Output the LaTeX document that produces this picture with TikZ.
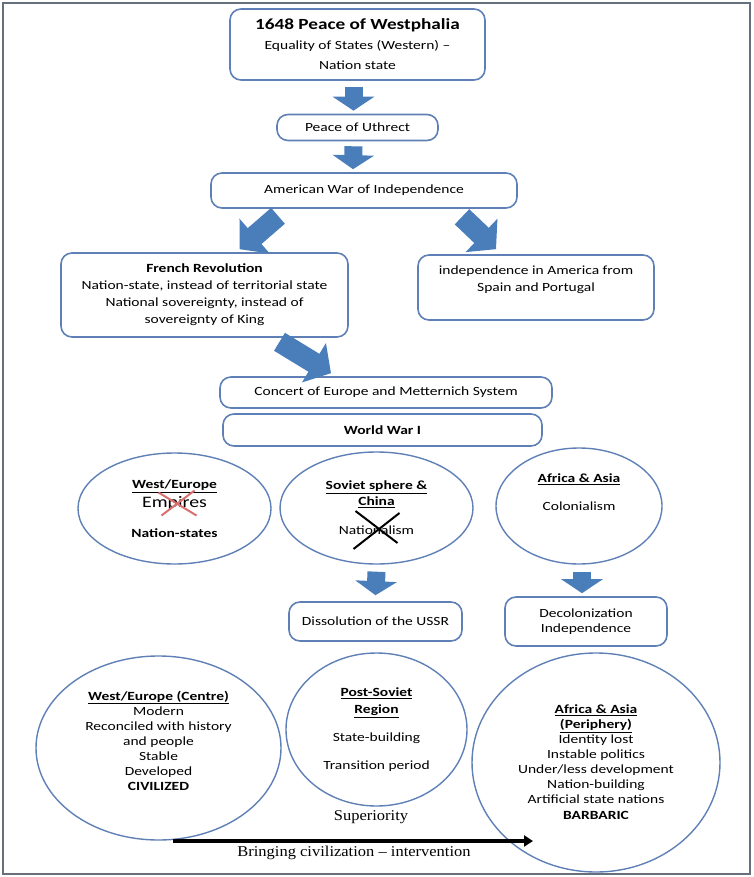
\documentclass[tikz,border=0pt]{standalone}
\usepackage{fontspec}
\setmainfont{Carlito}[FakeStretch=1.24]
\newfontfamily\serifpart{Liberation Serif}[FakeStretch=1.1,Ligatures=TeX]
\usetikzlibrary{arrows.meta,calc,shapes.geometric}
\definecolor{lineblue}{HTML}{5F80B6}
\definecolor{arrowblue}{HTML}{4A7EBB}
\definecolor{framegray}{HTML}{66707C}
\definecolor{crossred}{HTML}{D97070}

\begin{document}
\begin{tikzpicture}[x=1pt, y=-1pt,
        box/.style={draw=lineblue, line width=1.6pt, rounded corners=11pt, align=center, inner sep=0pt, font=\fontsize{12.5}{17}\selectfont},
        region/.style={ellipse, draw=lineblue, line width=1.4pt, align=center, inner sep=0pt, font=\fontsize{12.5}{15}\selectfont},
        blockarrow/.style={draw=arrowblue, line width=18pt, -{Triangle[length=14pt,width=41pt]}},
        slantarrow/.style={draw=arrowblue, line width=21pt, -{Triangle[length=20pt,width=45pt]}},
        serif/.style={font=\serifpart\fontsize{15}{16}\selectfont}
    ]
    \useasboundingbox (0,0) rectangle (753,877);
    \draw[framegray, line width=2.5pt] (3,3) rectangle (750,874);

    % boxes along the time line
    \node[box, minimum width=255pt, minimum height=71pt, font=\fontsize{12.5}{20}\selectfont] (westph) at (357.5,44.5)
        {{\fontsize{15.5}{20}\selectfont\bfseries 1648 Peace of Westphalia}\\Equality of States (Western) --\\Nation state};
    \node[box, minimum width=161pt, minimum height=26pt] (utrecht) at (357.5,127.5) {Peace of Uthrect};
    \node[box, minimum width=306pt, minimum height=35pt] (amwar) at (364,190.5) {American War of Independence};
    \node[box, minimum width=287pt, minimum height=84pt] (french) at (204.5,295)
        {\textbf{French Revolution}\\Nation-state, instead of territorial state\\National sovereignty, instead of\\sovereignty of King};
    \node[box, minimum width=236pt, minimum height=65pt] (spain) at (536,287.5)
        {independence in America from\\Spain and Portugal\\\mbox{}};
    \node[box, minimum width=332pt, minimum height=31pt] (concert) at (386,392.5) {Concert of Europe and Metternich System};
    \node[box, minimum width=319pt, minimum height=32pt] (ww) at (382.5,430) {\textbf{World War I}};

    % regions
    \node[region, minimum width=193pt, minimum height=111pt] (westeu) at (174.5,508.5)
        {\underline{\textbf{West/Europe}}\\[4pt]{\fontsize{16}{15}\selectfont Empires}\\[15pt]\textbf{Nation-states}};
    \node[region, minimum width=193pt, minimum height=112pt] (soviet) at (376.5,508)
        {\underline{\textbf{Soviet sphere \&}}\\[1pt]\underline{\textbf{China}}\\[14pt]Nationalism};
    \node[region, minimum width=166pt, minimum height=116pt] (afras) at (579,506)
        {\underline{\textbf{Africa \& Asia}}\\[13pt]Colonialism\\[13pt]\mbox{}};
    \node[box, minimum width=173pt, minimum height=39pt] (ussr) at (375.5,621.5) {Dissolution of the USSR};
    \node[box, minimum width=162pt, minimum height=49pt, font=\fontsize{12.5}{15}\selectfont] (decol) at (586,621.5)
        {Decolonization\\Independence};

    \node[region, minimum width=245pt, minimum height=184pt] (centre) at (158.5,748)
        {\underline{\textbf{West/Europe (Centre)}}\\Modern\\Reconciled with history\\and people\\Stable\\Developed\\\textbf{CIVILIZED}\\\mbox{}};
    \node[region, minimum width=181pt, minimum height=153pt] (postsov) at (376.5,729.5)
        {\underline{\textbf{Post-Soviet}}\\[2pt]\underline{\textbf{Region}}\\[13pt]State-building\\[13pt]Transition period};
    \node[region, minimum width=248pt, minimum height=219pt] (periph) at (596,762.5)
        {\underline{\textbf{Africa \& Asia}}\\\underline{\textbf{(Periphery)}}\\Identity lost\\Instable politics\\Under/less development\\Nation-building\\Artificial state nations\\[1pt]\textbf{BARBARIC}};

    \node[serif] (superior) at (371,817) {Superiority};
    \node[serif] (civtext) at (354,853) {Bringing civilization -- intervention};

    % block arrows
    \draw[blockarrow] ([xshift=-4pt,yshift=-6pt]westph.south) -- ([xshift=-4pt,yshift=3pt]utrecht.north);
    \draw[blockarrow] ([xshift=-4pt,yshift=-5pt]utrecht.south) -- ([xshift=-11pt,yshift=3pt]amwar.north);
    \draw[slantarrow] ([xshift=-86pt,yshift=-7pt]amwar.south) -- ([xshift=35pt,yshift=3pt]french.north);
    \draw[slantarrow] ([xshift=98pt,yshift=-8pt]amwar.south) -- ([xshift=-40pt,yshift=5pt]spain.north);
    \draw[slantarrow] ([xshift=75pt,yshift=-4pt]french.south) -- ([xshift=-55pt,yshift=3pt]concert.north);
    \draw[blockarrow] ([yshift=-7pt]soviet.south) -- ([yshift=6pt]ussr.north);
    \draw[blockarrow] ($(afras.south)+(3,7)$) -- ($(afras.south |- decol.north)+(3,-3)$);

    % crossed out words
    \draw[crossred, line width=2pt] ($(westeu)+(-16,-16)$) -- ($(westeu)+(22,7)$);
    \draw[crossred, line width=2pt] ($(westeu)+(-13,7)$) -- ($(westeu)+(20,-18)$);
    \draw[black, line width=2pt] ($(soviet)+(-21,3)$) -- ($(soviet)+(21,35)$);
    \draw[black, line width=2pt] ($(soviet)+(23,5)$) -- ($(soviet)+(-23,41)$);

    \coordinate (civstart) at (173,841);
    \coordinate (civend) at (533,841);
    \draw[line width=4.5pt, -{Triangle[length=9pt,width=11pt]}] (civstart) -- (civend);
\end{tikzpicture}
\end{document}
